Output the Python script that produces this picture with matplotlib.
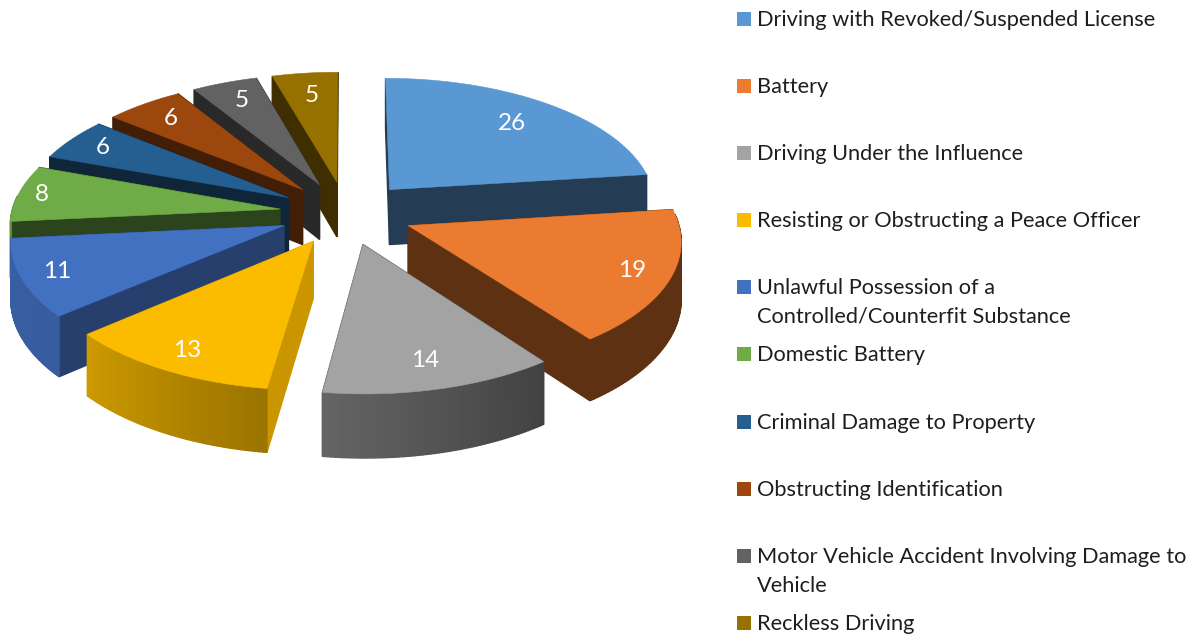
import matplotlib
matplotlib.use("Agg")
import matplotlib.pyplot as plt
from matplotlib.patches import Polygon, Rectangle
import numpy as np

labels = ["Driving with Revoked/Suspended License", "Battery", "Driving Under the Influence",
          "Resisting or Obstructing a Peace Officer",
          "Unlawful Possession of a\nControlled/Counterfit Substance", "Domestic Battery",
          "Criminal Damage to Property", "Obstructing Identification",
          "Motor Vehicle Accident Involving Damage to\nVehicle", "Reckless Driving"]
values = [26, 19, 14, 13, 11, 8, 6, 6, 5, 5]
colors = ["#5a98d3", "#eb7b30", "#a3a3a3", "#fbbc00", "#4371c2",
          "#6fab46", "#255e91", "#9c470e", "#626262", "#967100"]

# legend rows, pixel y of the first text line
legend_y = [19, 86, 153, 220, 287, 354, 422, 489, 556, 623]

# projection of the tilted pie, fitted by eye
CX, CY, R, K, P, EXPL, DEPTH = 346, 213, 268, 0.4745, 0.102, 0.25, 56
# how far out along the slice each number sits
label_r = [0.76, 0.86, 0.82, 0.86, 0.87, 0.91, 0.85, 0.82, 0.81, 0.78]
# darkness of the cut faces
face_shade = [0.40, 0.40, 0.45, 0.80, 0.56, 0.40, 0.40, 0.42, 0.42, 0.42]


def project(x, y, z=0.0):
    s = 1 / (1 + P * y)
    return CX + R * x * s, CY - R * K * y * s + DEPTH * z * s


def shade(color, f):
    rgb = np.array(matplotlib.colors.to_rgb(color))
    return tuple(np.clip(rgb * f, 0, 1))


def wall_shade(theta):
    # outer wall gets lighter as it turns to the left
    return float(np.interp(theta, [0, 100, 143, 188, 229, 270, 360],
                           [0.42, 0.40, 0.40, 0.62, 0.82, 0.85, 0.5]))


fig = plt.figure(figsize=(11.98, 6.34), dpi=100)
ax = fig.add_axes([0, 0, 1, 1])
ax.set_xlim(0, 1198)
ax.set_ylim(634, 0)
ax.axis("off")

total = sum(values)
edges = np.cumsum([0] + values) / total * 360
slices = []
for i, v in enumerate(values):
    mid = np.radians((edges[i] + edges[i + 1]) / 2)
    slices.append((np.cos(mid), i))

for _, i in sorted(slices, reverse=True):
    a0, a1 = edges[i], edges[i + 1]
    mid = np.radians((a0 + a1) / 2)
    ox, oy = EXPL * np.sin(mid), EXPL * np.cos(mid)
    th = np.radians(np.linspace(a0, a1, 60))
    xs = ox + np.sin(th)
    ys = oy + np.cos(th)

    quads = []
    for x1, y1 in ((xs[0], ys[0]), (xs[-1], ys[-1])):
        pts = [project(ox, oy), project(x1, y1), project(x1, y1, 1), project(ox, oy, 1)]
        quads.append(((oy + y1) / 2, pts, shade(colors[i], face_shade[i])))
    for k in range(len(th) - 1):
        if np.cos(th[k]) > 0.1:  # back of the rim, hidden
            continue
        pts = [project(xs[k], ys[k]), project(xs[k + 1], ys[k + 1]),
               project(xs[k + 1], ys[k + 1], 1), project(xs[k], ys[k], 1)]
        f = wall_shade(np.degrees(th[k]))
        quads.append(((ys[k] + ys[k + 1]) / 2, pts, shade(colors[i], f)))
    for _, pts, c in sorted(quads, key=lambda q: -q[0]):
        ax.add_patch(Polygon(pts, closed=True, facecolor=c, edgecolor=c, lw=1.0))

    top = [project(ox, oy)] + [project(x, y) for x, y in zip(xs, ys)]
    ax.add_patch(Polygon(top, closed=True, facecolor=colors[i], edgecolor=colors[i], lw=0.4))

    tx, ty = project(ox + label_r[i] * np.sin(mid), oy + label_r[i] * np.cos(mid))
    ax.text(tx, ty, str(values[i]), color="white", fontsize=17.5, family="Lato",
            ha="center", va="center")

for lab, y, c in zip(labels, legend_y, colors):
    ax.add_patch(Rectangle((737, y - 7), 14, 14, facecolor=c, edgecolor="none"))
    ax.text(757, y - 9, lab, fontsize=15.7, family="Lato", color="#1e1e1e",
            ha="left", va="top", linespacing=1.55)

fig.savefig("out.png", dpi=100)
